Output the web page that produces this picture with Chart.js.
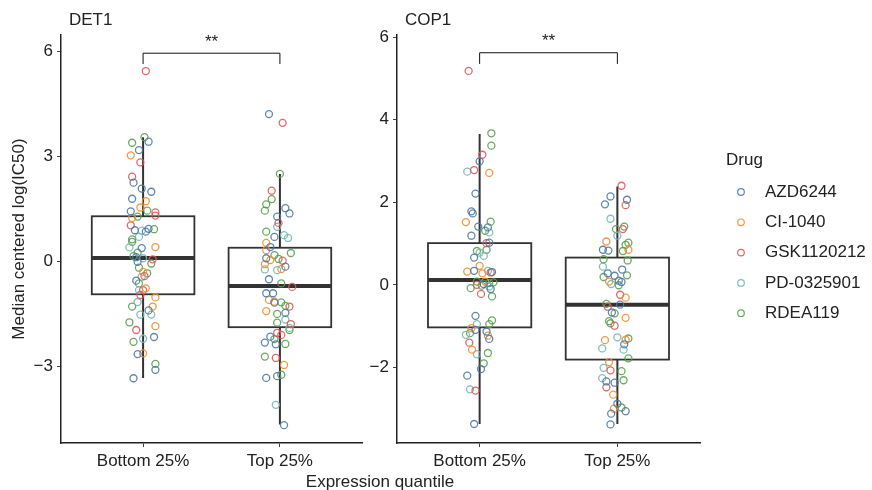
<!DOCTYPE html>
<html>
<head>
<meta charset="utf-8">
<script src="https://cdn.jsdelivr.net/npm/chart.js@4.4.1/dist/chart.umd.min.js"></script>
<style>
  body { margin: 0; background: #fff; }
  #wrap { position: relative; width: 872px; height: 490px; overflow: hidden; }
  #c1 { position: absolute; left: 0; top: 0; }
  #c2 { position: absolute; left: 362px; top: 0; }
  #xtitle {
    position: absolute; left: 0; top: 472px; width: 760px; text-align: center;
    font: 17px "Liberation Sans", Arial, sans-serif; color: #222; line-height: 20px;
  }
</style>
</head>
<body>
<div id="wrap">
  <canvas id="c1" width="372" height="490"></canvas>
  <canvas id="c2" width="510" height="490"></canvas>
  <div id="xtitle">Expression quantile</div>
</div>
<script>
const categories = ['Bottom 25%', 'Top 25%'];
const drugs = ['AZD6244', 'CI-1040', 'GSK1120212', 'PD-0325901', 'RDEA119'];
const drugColors = ['#4E79A7', '#F28E2B', '#E15759', '#76B7B2', '#59A14F'];

const det1Ticks = [-3, 0, 3, 6];
const cop1Ticks = [-2, 0, 2, 4, 6];

// box stats: [lower whisker, q1, median, q3, upper whisker]
const det1BottomBox = [-3.34, -0.95, 0.09, 1.28, 3.54];
const det1TopBox = [-4.67, -1.89, -0.71, 0.38, 2.49];
const cop1BottomBox = [-3.37, -1.03, 0.12, 1.01, 3.65];
const cop1TopBox = [-3.37, -1.81, -0.48, 0.66, 2.38];

// significance bracket: [leg end, bar]
const det1Bracket = [5.63, 5.94];
const cop1Bracket = [5.35, 5.62];

// points: [drug index, jitter, value]
const det1Bottom = [
  [2, 0.02, 5.43], [4, 0.01, 3.54], [4, -0.08, 3.38], [0, 0.04, 3.41], [0, -0.03, 3.17],
  [1, -0.09, 3.02], [2, -0.02, 2.82], [2, -0.08, 2.41], [0, -0.07, 2.24], [0, -0.01, 2.07],
  [0, 0.06, 1.98], [0, -0.08, 1.78], [1, 0.02, 1.71], [1, -0.02, 1.53], [4, 0.03, 1.44],
  [0, -0.09, 1.42], [2, 0.09, 1.39], [2, 0.09, 1.30], [4, -0.04, 1.27], [1, -0.08, 1.23],
  [2, -0.09, 1.02], [0, -0.06, 0.88], [3, -0.01, 0.87], [0, 0.04, 0.92], [4, 0.08, 0.91],
  [0, 0.02, 0.84], [3, -0.03, 0.69], [4, -0.08, 0.62], [1, 0.09, 0.40], [4, -0.08, 0.55],
  [3, -0.10, 0.39], [0, -0.01, 0.37], [4, -0.04, 0.24], [4, -0.07, 0.14], [0, -0.05, 0.11],
  [3, 0.00, 0.08], [2, 0.07, 0.05], [4, 0.06, -0.07], [0, -0.04, -0.02], [4, -0.03, -0.19],
  [1, 0.00, -0.31], [4, 0.03, -0.35], [2, 0.01, -0.43], [3, -0.01, -0.45], [0, -0.05, -0.56],
  [4, -0.03, -0.64], [1, 0.02, -0.78], [3, -0.03, -0.83], [2, 0.00, -0.83], [2, -0.02, -0.97],
  [1, 0.09, -1.04], [3, -0.04, -1.17], [4, -0.08, -1.30], [1, 0.07, -1.30], [0, 0.04, -1.41],
  [3, 0.06, -1.53], [3, -0.02, -1.53], [4, -0.10, -1.75], [1, 0.09, -1.86], [2, -0.05, -1.97],
  [0, 0.08, -2.17], [3, 0.00, -2.22], [4, -0.07, -2.31], [0, -0.04, -2.66], [1, 0.00, -2.64],
  [4, 0.09, -2.94], [0, 0.09, -3.11], [0, -0.07, -3.35]
];
const det1Top = [
  [0, -0.08, 4.20], [2, 0.02, 3.95], [4, 0.00, 2.49], [2, -0.06, 2.01], [4, -0.06, 1.77],
  [4, -0.10, 1.62], [4, -0.11, 1.44], [0, 0.04, 1.51], [0, 0.07, 1.36], [0, -0.02, 1.27],
  [2, -0.01, 1.09], [3, -0.02, 0.98], [4, -0.10, 0.84], [0, -0.04, 0.69], [3, 0.03, 0.74],
  [3, 0.06, 0.66], [1, -0.10, 0.52], [0, -0.07, 0.40], [1, -0.10, 0.31], [4, 0.08, 0.23],
  [4, -0.04, 0.17], [0, -0.10, 0.08], [1, -0.07, 0.03], [4, -0.01, 0.06], [2, 0.02, 0.01],
  [1, -0.11, -0.09], [0, 0.04, -0.16], [3, -0.11, -0.24], [3, -0.02, -0.26], [1, 0.01, -0.23],
  [0, -0.08, -0.52], [4, 0.01, -0.64], [2, 0.09, -0.74], [0, -0.10, -0.92], [0, -0.05, -0.92],
  [1, -0.08, -1.11], [1, -0.04, -1.16], [0, -0.04, -1.19], [4, 0.01, -1.18], [4, 0.04, -1.28],
  [2, 0.07, -1.30], [1, -0.10, -1.43], [0, 0.04, -1.48], [4, -0.02, -1.51], [3, 0.04, -1.67],
  [4, -0.02, -1.76], [2, 0.08, -1.80], [3, 0.07, -1.91], [4, 0.07, -1.97], [2, -0.02, -2.05],
  [2, 0.01, -2.11], [0, -0.07, -2.16], [4, -0.04, -2.23], [0, -0.11, -2.33], [0, -0.03, -2.38],
  [4, 0.04, -2.37], [4, -0.11, -2.73], [2, -0.03, -2.77], [1, 0.03, -2.97], [0, -0.10, -3.34],
  [0, -0.02, -3.29], [4, 0.01, -3.25], [3, -0.03, -4.11], [0, 0.03, -4.69]
];
const cop1Bottom = [
  [2, -0.08, 5.18], [4, 0.085, 3.67], [4, 0.085, 3.37], [2, 0.02, 3.15], [0, 0.00, 2.99],
  [2, -0.04, 2.78], [3, -0.09, 2.74], [1, 0.07, 2.71], [0, -0.03, 2.21], [0, -0.06, 1.78],
  [0, -0.05, 1.73], [1, -0.10, 1.52], [4, 0.08, 1.53], [0, -0.01, 1.41], [0, 0.06, 1.39],
  [4, 0.04, 1.31], [3, 0.07, 1.27], [0, -0.06, 1.19], [2, 0.05, 1.01], [0, 0.07, 1.02],
  [4, -0.02, 0.82], [4, 0.05, 0.85], [3, 0.00, 0.78], [3, 0.03, 0.70], [0, -0.04, 0.66],
  [1, 0.00, 0.46], [1, -0.09, 0.32], [0, -0.04, 0.34], [1, 0.02, 0.28], [3, 0.06, 0.34],
  [0, 0.09, 0.31], [2, 0.08, 0.30], [4, -0.02, 0.08], [4, 0.10, 0.06], [1, 0.04, 0.08],
  [2, -0.02, 0.00], [0, 0.03, 0.02], [4, 0.07, 0.04], [4, -0.065, -0.08], [3, 0.07, -0.04],
  [0, 0.08, -0.10], [4, 0.015, -0.02], [2, 0.01, -0.22], [4, 0.09, -0.28], [0, -0.03, -0.75],
  [4, 0.09, -0.86], [3, -0.02, -0.95], [4, 0.07, -0.95], [1, -0.06, -1.05], [0, -0.03, -1.09],
  [4, -0.07, -1.17], [3, -0.10, -1.21], [0, 0.05, -1.13], [1, 0.06, -1.23], [0, 0.07, -1.31],
  [2, -0.075, -1.40], [1, -0.055, -1.57], [3, -0.02, -1.68], [4, 0.06, -1.65], [4, 0.03, -1.90],
  [0, 0.01, -2.04], [0, -0.09, -2.20], [3, -0.07, -2.53], [2, -0.03, -2.56], [0, -0.04, -3.37]
];
const cop1Top = [
  [2, 0.03, 2.40], [0, -0.05, 2.14], [0, 0.07, 2.06], [0, -0.09, 1.95], [2, 0.06, 1.93],
  [3, -0.05, 1.60], [4, 0.05, 1.41], [2, 0.04, 1.35], [4, -0.01, 1.35], [3, 0.00, 1.19],
  [1, -0.08, 1.05], [4, 0.08, 1.02], [4, 0.06, 0.97], [1, 0.08, 0.85], [4, 0.04, 0.82],
  [0, -0.105, 0.85], [0, -0.065, 0.83], [4, -0.10, 0.62], [4, 0.075, 0.59], [3, -0.105, 0.44],
  [0, 0.035, 0.37], [0, -0.07, 0.28], [4, -0.10, 0.19], [0, -0.02, 0.22], [4, 0.07, 0.23],
  [0, 0.01, 0.10], [1, -0.06, 0.08], [0, 0.03, 0.07], [3, -0.045, 0.02], [4, 0.01, -0.01],
  [2, 0.02, -0.24], [1, 0.06, -0.31], [4, -0.08, -0.46], [2, -0.07, -0.53], [0, 0.02, -0.48],
  [0, -0.04, -0.67], [4, -0.02, -0.69], [1, 0.06, -0.80], [4, -0.06, -0.88], [4, -0.05, -0.93],
  [2, -0.02, -0.99], [3, 0.00, -1.27], [4, 0.08, -1.30], [1, 0.06, -1.33], [1, -0.09, -1.34],
  [0, 0.05, -1.44], [3, -0.11, -1.54], [3, 0.045, -1.57], [4, 0.08, -1.78], [1, -0.06, -1.87],
  [3, -0.10, -2.01], [2, -0.05, -2.07], [4, 0.03, -2.09], [3, -0.11, -2.26], [0, -0.08, -2.34],
  [0, -0.02, -2.37], [4, 0.045, -2.31], [2, -0.08, -2.48], [1, -0.03, -2.66], [0, 0.00, -2.88],
  [4, 0.03, -2.97], [1, -0.025, -3.00], [0, 0.06, -3.06], [0, -0.045, -3.12], [0, -0.05, -3.38]
];

const FONT = '"Liberation Sans", Arial, sans-serif';
const INK = '#222';
const BOX_HALF = 0.375;

Chart.defaults.font.family = FONT;
Chart.defaults.font.size = 17;
Chart.defaults.color = INK;

function hexA(hex, a) {
  const n = parseInt(hex.slice(1), 16);
  return `rgba(${n >> 16}, ${(n >> 8) & 255}, ${n & 255}, ${a})`;
}

function buildDatasets(groups) {
  return drugs.map((name, d) => ({
    label: name,
    data: groups.flatMap((pts, g) =>
      pts.filter(p => p[0] === d).map(p => ({ x: g + 1 + p[1], y: p[2] }))),
    borderColor: hexA(drugColors[d], 0.9),
    backgroundColor: 'rgba(0,0,0,0)',
    pointRadius: 3.5,
    pointHoverRadius: 3.5,
    pointBorderWidth: 1.3
  }));
}

function fmt(v) {
  return v < 0 ? '\u2212' + Math.abs(v) : String(v);
}

const boxPlugin = {
  id: 'boxes',
  beforeDatasetsDraw(chart, args, opts) {
    const { ctx, scales: { x, y } } = chart;
    ctx.save();
    ctx.strokeStyle = '#333';
    opts.stats.forEach((s, i) => {
      const cx = x.getPixelForValue(i + 1);
      const hw = x.getPixelForValue(i + 1 + BOX_HALF) - cx;
      const [lo, q1, med, q3, hi] = s.map(v => y.getPixelForValue(v));
      ctx.lineWidth = 2;
      ctx.beginPath();
      ctx.moveTo(cx, hi); ctx.lineTo(cx, q3);
      ctx.moveTo(cx, q1); ctx.lineTo(cx, lo);
      ctx.stroke();
      ctx.lineWidth = 1.8;
      ctx.strokeRect(cx - hw, q3, 2 * hw, q1 - q3);
      ctx.lineWidth = 4;
      ctx.beginPath();
      ctx.moveTo(cx - hw, med); ctx.lineTo(cx + hw, med);
      ctx.stroke();
    });
    ctx.restore();
  },
  afterDraw(chart, args, opts) {
    const { ctx, chartArea, scales: { x, y } } = chart;
    const x1 = x.getPixelForValue(1), x2 = x.getPixelForValue(2);
    const yl = y.getPixelForValue(opts.bracket[0]), yb = y.getPixelForValue(opts.bracket[1]);
    ctx.save();
    ctx.strokeStyle = '#111';
    ctx.lineWidth = 1;
    ctx.beginPath();
    ctx.moveTo(x1, yl); ctx.lineTo(x1, yb); ctx.lineTo(x2, yb); ctx.lineTo(x2, yl);
    ctx.stroke();
    ctx.fillStyle = INK;
    ctx.font = '17px ' + FONT;
    ctx.textAlign = 'center';
    ctx.textBaseline = 'middle';
    ctx.fillText('**', (x1 + x2) / 2, yb - 11);
    ctx.textAlign = 'left';
    ctx.fillText(opts.title, chartArea.left + 8, 20);
    ctx.restore();
  }
};

const legendPlugin = {
  id: 'drugLegend',
  afterDraw(chart, args, opts) {
    const { ctx } = chart;
    ctx.save();
    ctx.fillStyle = INK;
    ctx.font = '17px ' + FONT;
    ctx.textBaseline = 'middle';
    ctx.textAlign = 'left';
    ctx.fillText('Drug', opts.x, opts.y);
    chart.data.datasets.forEach((ds, i) => {
      const yy = opts.y + 32 + i * 30.3;
      ctx.strokeStyle = ds.borderColor;
      ctx.lineWidth = 1.2;
      ctx.beginPath();
      ctx.arc(opts.x + 15, yy, 3.3, 0, Math.PI * 2);
      ctx.stroke();
      ctx.fillText(ds.label, opts.x + 39, yy);
    });
    ctx.restore();
  }
};

function makeOptions(yMin, yMax, yTicks, yWidth, padRight, extra) {
  return {
    responsive: false,
    animation: false,
    layout: { padding: { top: 35, right: padRight, bottom: 0, left: 0 } },
    scales: {
      x: {
        type: 'linear', min: 0.4, max: 2.6,
        afterBuildTicks: s => { s.ticks = categories.map((c, i) => ({ value: i + 1 })); },
        afterFit: s => { s.height = 47; },
        ticks: { callback: v => categories[v - 1], padding: 4, maxRotation: 0, color: INK },
        grid: { drawOnChartArea: false, tickLength: 4, color: '#444', lineWidth: 1 },
        border: { color: '#222', width: 1.5 }
      },
      y: {
        min: yMin, max: yMax,
        afterBuildTicks: s => { s.ticks = yTicks.map(v => ({ value: v })); },
        afterFit: s => { s.width = yWidth; },
        ticks: { callback: v => fmt(v), padding: 4, color: INK },
        grid: { drawOnChartArea: false, tickLength: 4, color: '#444', lineWidth: 1 },
        border: { color: '#222', width: 1.5 },
        title: extra.yTitle ? { display: true, text: extra.yTitle, padding: { top: 9 }, color: INK } : { display: false }
      }
    },
    plugins: Object.assign({
      legend: { display: false },
      tooltip: { enabled: false },
      boxes: extra.boxes
    }, extra.plugins || {})
  };
}

new Chart(document.getElementById('c1'), {
  type: 'scatter',
  data: { datasets: buildDatasets([det1Bottom, det1Top]) },
  options: makeOptions(-5.2, 6.46, det1Ticks, 61, 10, {
    yTitle: 'Median centered log(IC50)',
    boxes: { stats: [det1BottomBox, det1TopBox], bracket: det1Bracket, title: 'DET1' }
  }),
  plugins: [boxPlugin]
});

new Chart(document.getElementById('c2'), {
  type: 'scatter',
  data: { datasets: buildDatasets([cop1Bottom, cop1Top]) },
  options: makeOptions(-3.83, 6.05, cop1Ticks, 35, 172, {
    boxes: { stats: [cop1BottomBox, cop1TopBox], bracket: cop1Bracket, title: 'COP1' },
    plugins: { drugLegend: { x: 364, y: 160 } }
  }),
  plugins: [boxPlugin, legendPlugin]
});
</script>
</body>
</html>
